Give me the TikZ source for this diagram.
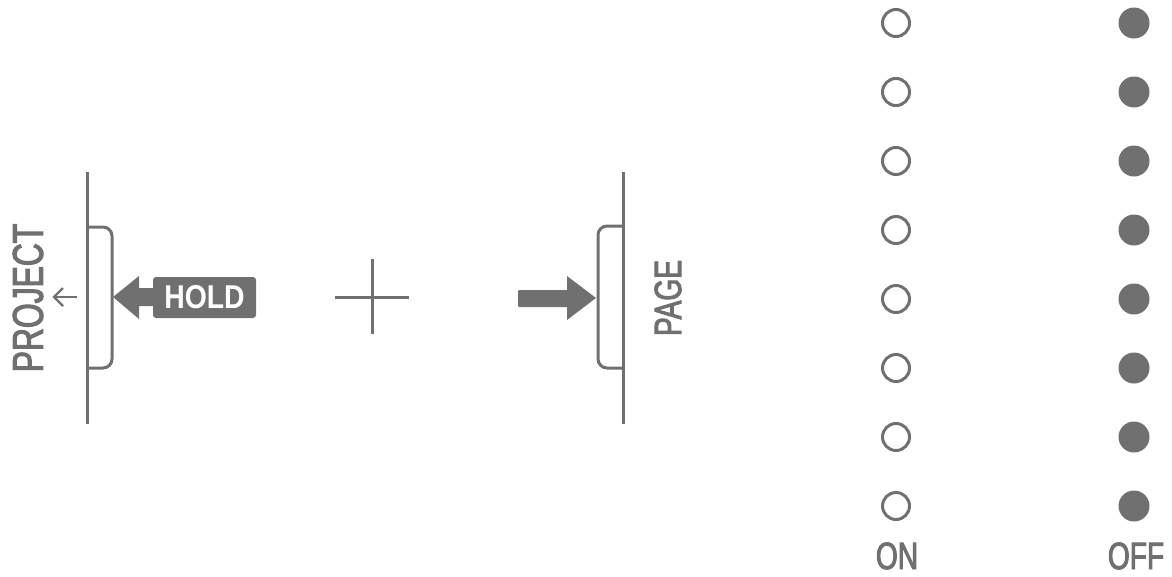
\documentclass[tikz,border=0pt]{standalone}
\usepackage{fontspec}
\setmainfont{Liberation Sans}
\newfontfamily\condfont[FakeStretch=0.74, FakeBold=2.5]{Liberation Sans}
\newfontfamily\condbold[FakeStretch=0.86]{Liberation Sans Bold}
\definecolor{ink}{HTML}{707070}
\tikzset{
  ink line/.style={draw=ink, line width=3pt},
  thin ink/.style={draw=ink, line width=2.2pt},
  label text/.style={text=ink, inner sep=0pt, font=\condfont\fontsize{40}{40}\selectfont},
  ondot/.style={circle, draw=ink, line width=3pt, minimum size=27pt, inner sep=0pt},
  offdot/.style={circle, fill=ink, minimum size=31pt, inner sep=0pt},
}
\begin{document}
\begin{tikzpicture}[x=1pt, y=-1pt]
\useasboundingbox (0,0) rectangle (1172,576);

% ---- left button (PROJECT) ----
\coordinate (lt) at (87,172);
\coordinate (lb) at (87,424);
\draw[ink line] (lt) -- (lb);
\draw[ink line, rounded corners=9pt] (87,227) -- (112,227) -- (112,368) -- (87,368);
\node[label text, rotate=90, font=\condfont\fontsize{43}{43}\selectfont] (project) at (28,298) {PROJECT};
\coordinate (pa1) at (77,297);
\coordinate (pa2) at (54,297);
\draw[thin ink] (pa1) -- (pa2);
\draw[thin ink, line join=miter] (63,288) -- (pa2) -- (63,306);

% HOLD arrow
\node[fill=ink, rounded corners=3pt, minimum width=103pt, minimum height=41pt, inner sep=0pt,
      text=white, font=\condbold\fontsize{33}{33}\selectfont] (hold) at (204.5,297.5) {HOLD};
\fill[ink] (hold.west |- 0,288) -- (139,288) -- (139,276) -- (113,297) -- (139,319) -- (139,306) -- (hold.west |- 0,306) -- cycle;

% ---- plus ----
\coordinate (pl) at (335,297);
\coordinate (pr) at (409,297);
\coordinate (pt) at (372,259);
\coordinate (pb) at (372,334);
\draw[ink line] (pl) -- (pr);
\draw[ink line] (pt) -- (pb);

% ---- right button (PAGE) ----
\coordinate (rt) at (623,172);
\coordinate (rb) at (623,424);
\draw[ink line] (rt) -- (rb);
\draw[ink line, rounded corners=9pt] (623,226) -- (598,226) -- (598,368) -- (623,368);
\node[label text, rotate=90, font=\condfont\fontsize{38}{38}\selectfont] (page) at (668,298) {PAGE};
\fill[ink, rounded corners=1pt] (518,290) rectangle (570,307);
\fill[ink] (567,276) -- (596,298) -- (567,320) -- cycle;

% ---- dots ----
\foreach \i in {0,...,7} {
  \node[ondot] (on\i) at (896,{23+69*\i}) {};
  \node[offdot] (off\i) at (1134,{23+69*\i}) {};
}
\node[label text, font=\condfont\fontsize{38}{38}\selectfont, anchor=base] (onlbl) at (897,569) {ON};
\node[label text, font=\condfont\fontsize{38}{38}\selectfont, anchor=base] (offlbl) at (1136,569) {OFF};
\end{tikzpicture}
\end{document}
